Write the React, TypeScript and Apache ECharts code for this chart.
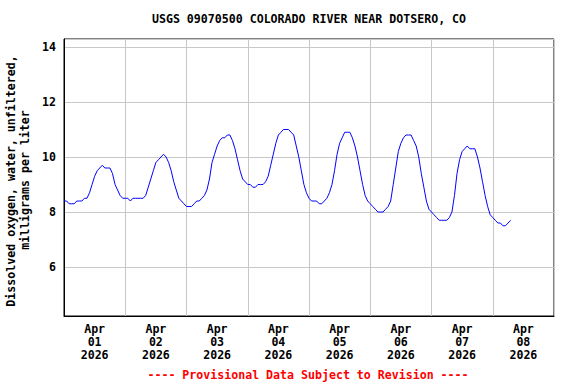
import React, { useEffect, useRef } from "react";
import * as echarts from "echarts";

const TITLE = "USGS 09070500 COLORADO RIVER NEAR DOTSERO, CO";
const Y_NAME_1 = "Dissolved oxygen, water, unfiltered,";
const Y_NAME_2 = "milligrams per liter";
const FOOTER = "---- Provisional Data Subject to Revision ----";
const MONTH = "Apr";
const YEAR = "2026";

// First reading: 2026-04-01 00:00, one reading per hour
const START_YEAR = 2026;
const START_MONTH = 3; // April (0-based)
const START_DAY = 1;
const END_DAY = 9;

const apr01 = [8.4, 8.4, 8.3, 8.3, 8.3, 8.4, 8.4, 8.4, 8.5, 8.5, 8.7, 9.0, 9.3, 9.5, 9.6, 9.7, 9.6, 9.6, 9.6, 9.4, 9.0, 8.8, 8.6, 8.5];
const apr02 = [8.5, 8.5, 8.4, 8.5, 8.5, 8.5, 8.5, 8.5, 8.6, 8.9, 9.2, 9.5, 9.8, 9.9, 10.0, 10.1, 10.0, 9.8, 9.5, 9.1, 8.8, 8.5, 8.4, 8.3];
const apr03 = [8.2, 8.2, 8.2, 8.3, 8.4, 8.4, 8.5, 8.6, 8.8, 9.2, 9.8, 10.1, 10.4, 10.6, 10.7, 10.7, 10.8, 10.8, 10.6, 10.3, 9.9, 9.5, 9.2, 9.1];
const apr04 = [9.0, 9.0, 8.9, 8.9, 9.0, 9.0, 9.0, 9.1, 9.3, 9.7, 10.1, 10.5, 10.8, 10.9, 11.0, 11.0, 11.0, 10.9, 10.8, 10.4, 10.0, 9.5, 9.0, 8.7];
const apr05 = [8.5, 8.4, 8.4, 8.4, 8.3, 8.3, 8.4, 8.5, 8.7, 9.0, 9.5, 10.1, 10.5, 10.7, 10.9, 10.9, 10.9, 10.7, 10.4, 10.0, 9.5, 9.0, 8.6, 8.4];
const apr06 = [8.3, 8.2, 8.1, 8.0, 8.0, 8.0, 8.1, 8.2, 8.4, 9.0, 9.6, 10.2, 10.5, 10.7, 10.8, 10.8, 10.8, 10.6, 10.4, 10.0, 9.4, 8.9, 8.4, 8.1];
const apr07 = [8.0, 7.9, 7.8, 7.7, 7.7, 7.7, 7.7, 7.8, 8.0, 8.6, 9.4, 9.9, 10.2, 10.3, 10.4, 10.3, 10.3, 10.3, 10.0, 9.6, 9.1, 8.6, 8.2, 7.9];
const apr08 = [7.8, 7.7, 7.6, 7.6, 7.5, 7.5, 7.6, 7.7];

const Y_MIN = 4.22;
const Y_MAX = 14.29;

const FONT = "DejaVu Sans Mono";

export default function App() {
  const ref = useRef<HTMLDivElement>(null);

  useEffect(() => {
    if (!ref.current) return;
    const chart = echarts.init(ref.current, undefined, { renderer: "svg" });
    const HOUR = 3600000;
    const DAY = 24 * HOUR;
    const t0 = Date.UTC(START_YEAR, START_MONTH, START_DAY);
    const t1 = Date.UTC(START_YEAR, START_MONTH, END_DAY);
    const values = [...apr01, ...apr02, ...apr03, ...apr04, ...apr05, ...apr06, ...apr07, ...apr08];
    const data = values.map((v, i) => [t0 + i * HOUR, v]);

    const textStyle = { fontFamily: FONT, fontWeight: "bold" as const, fontSize: 11.6, color: "#000" };

    chart.setOption({
      animation: false,
      backgroundColor: "#fff",
      grid: {
        left: 64,
        right: 22,
        top: 39,
        bottom: 68,
        show: true,
        borderColor: "#000",
        borderWidth: 1,
        backgroundColor: "transparent",
      },
      xAxis: [
        {
          type: "value",
          min: t0,
          max: t1,
          interval: DAY,
          axisLine: { show: true, lineStyle: { color: "#000", width: 1 } },
          axisTick: { show: false },
          axisLabel: { show: false },
          splitLine: { show: true, lineStyle: { color: "#c8c8c8", width: 1 } },
        },
        {
          type: "value",
          min: t0,
          max: t1,
          interval: DAY / 2,
          position: "bottom",
          axisLine: { show: false },
          axisTick: { show: false },
          splitLine: { show: false },
          axisLabel: {
            show: true,
            margin: 7,
            lineHeight: 12.7,
            ...textStyle,
            formatter: (v: number) => {
              const d = new Date(v);
              if (d.getUTCHours() !== 12) return "";
              const dd = String(d.getUTCDate()).padStart(2, "0");
              return `${MONTH}\n${dd}\n${YEAR}`;
            },
          },
        },
      ],
      yAxis: {
        type: "value",
        min: Y_MIN,
        max: Y_MAX,
        splitNumber: 5,
        axisLine: { show: true, lineStyle: { color: "#000", width: 1 } },
        axisTick: { show: false },
        axisLabel: { margin: 8, showMinLabel: false, showMaxLabel: false, ...textStyle },
        splitLine: { show: true, lineStyle: { color: "#c8c8c8", width: 1 } },
      },
      series: [
        {
          type: "line",
          xAxisIndex: 0,
          data,
          showSymbol: false,
          lineStyle: { color: "#0000ff", width: 1 },
          itemStyle: { color: "#0000ff" },
        },
      ],
      graphic: [
        {
          type: "text",
          x: 309,
          y: 19,
          style: { text: TITLE, align: "center", verticalAlign: "middle", font: `bold 11.6px "${FONT}"`, fill: "#000" },
        },
        {
          type: "text",
          x: 10.5,
          y: 181,
          rotation: Math.PI / 2,
          style: { text: Y_NAME_1, align: "center", verticalAlign: "middle", font: `bold 11.6px "${FONT}"`, fill: "#000" },
        },
        {
          type: "text",
          x: 24.5,
          y: 180,
          rotation: Math.PI / 2,
          style: { text: Y_NAME_2, align: "center", verticalAlign: "middle", font: `bold 11.6px "${FONT}"`, fill: "#000" },
        },
        {
          type: "text",
          x: 308,
          y: 374.5,
          style: { text: FOOTER, align: "center", verticalAlign: "middle", font: `bold 11.6px "${FONT}"`, fill: "#ff0000" },
        },
      ],
    });
    return () => chart.dispose();
  }, []);

  return (
    <div
      ref={ref}
      style={{ position: "fixed", left: 0, top: 0, width: 576, height: 384, background: "#fff" }}
    />
  );
}
